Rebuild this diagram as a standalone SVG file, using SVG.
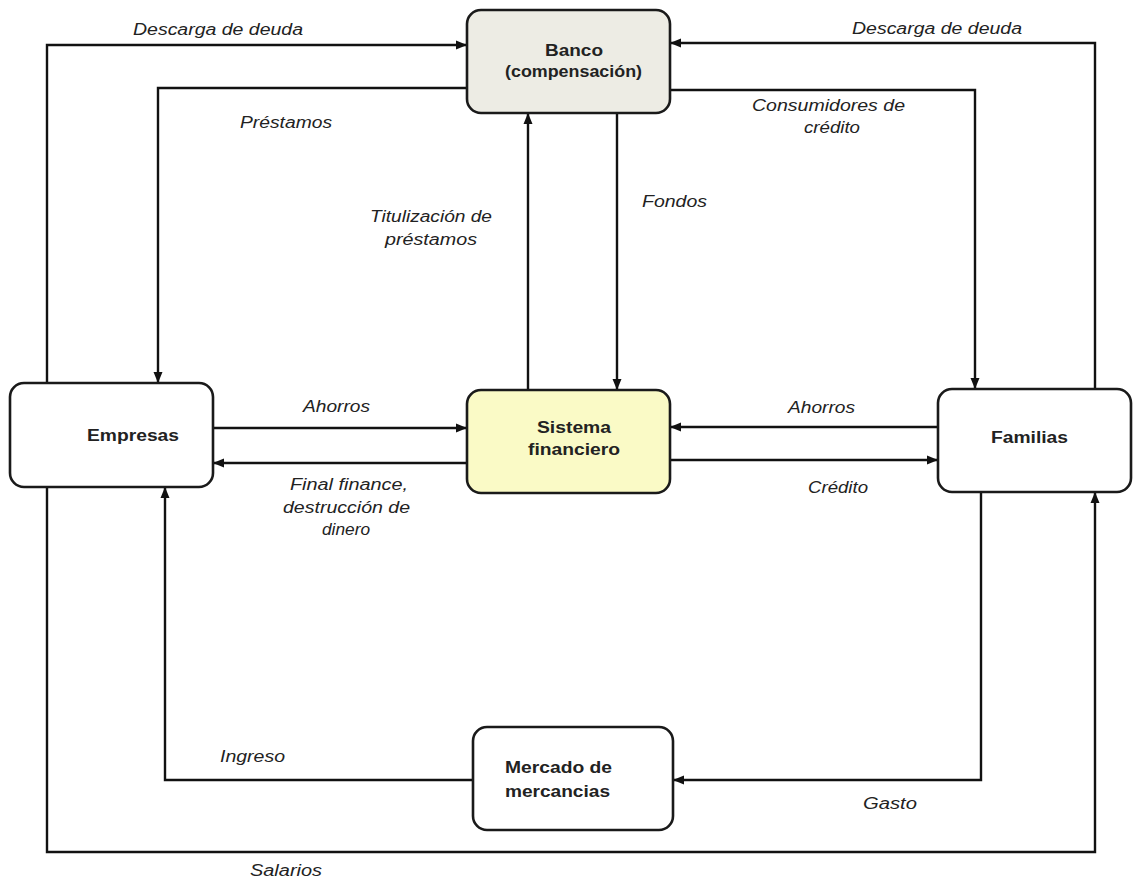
<svg xmlns="http://www.w3.org/2000/svg" width="1133" height="882" viewBox="0 0 1133 882">
<defs>
<marker id="arr" markerUnits="userSpaceOnUse" markerWidth="12" markerHeight="10" refX="11" refY="5" orient="auto">
<path d="M0,0.5 L11,5 L0,9.5 z" fill="#111"/>
</marker>
<style>
.box{stroke:#1a1a1a;stroke-width:2.6}
.c{fill:none;stroke:#111;stroke-width:2.4;marker-end:url(#arr)}
.lbl{font-family:"Liberation Sans",Arial,sans-serif;font-style:italic;font-size:16px;fill:#222}
.nt{font-family:"Liberation Sans",Arial,sans-serif;font-weight:bold;font-size:16px;fill:#222}
</style>
</defs>
<rect width="1133" height="882" fill="#fff"/>

<g id="connectors">
<path class="c" d="M47,383 V45 H467"/>
<path class="c" d="M467,88 H158 V383"/>
<path class="c" d="M1095,389 V43 H670"/>
<path class="c" d="M670,90 H975 V389"/>
<path class="c" d="M528,390 V113"/>
<path class="c" d="M617,113 V390"/>
<path class="c" d="M213,428 H467"/>
<path class="c" d="M467,463 H213"/>
<path class="c" d="M938,427 H670"/>
<path class="c" d="M670,460 H938"/>
<path class="c" d="M981,492 V780 H673"/>
<path class="c" d="M473,780 H165 V487"/>
<path class="c" d="M47,487 V852 H1095 V492"/>
</g>

<g id="labels">
<text class="lbl" x="133" y="35" textLength="170" lengthAdjust="spacingAndGlyphs">Descarga de deuda</text>
<text class="lbl" x="852" y="34" textLength="170" lengthAdjust="spacingAndGlyphs">Descarga de deuda</text>
<text class="lbl" x="240" y="128" textLength="92" lengthAdjust="spacingAndGlyphs">Préstamos</text>
<text class="lbl" x="752" y="111" textLength="153" lengthAdjust="spacingAndGlyphs">Consumidores de</text>
<text class="lbl" x="804" y="133" textLength="56" lengthAdjust="spacingAndGlyphs">crédito</text>
<text class="lbl" x="370" y="222" textLength="122" lengthAdjust="spacingAndGlyphs">Titulización de</text>
<text class="lbl" x="385" y="245" textLength="92" lengthAdjust="spacingAndGlyphs">préstamos</text>
<text class="lbl" x="642" y="207" textLength="65" lengthAdjust="spacingAndGlyphs">Fondos</text>
<text class="lbl" x="303" y="412" textLength="67" lengthAdjust="spacingAndGlyphs">Ahorros</text>
<text class="lbl" x="290" y="490" textLength="118" lengthAdjust="spacingAndGlyphs">Final finance,</text>
<text class="lbl" x="283" y="513" textLength="127" lengthAdjust="spacingAndGlyphs">destrucción de</text>
<text class="lbl" x="322" y="535" textLength="48" lengthAdjust="spacingAndGlyphs">dinero</text>
<text class="lbl" x="788" y="413" textLength="67" lengthAdjust="spacingAndGlyphs">Ahorros</text>
<text class="lbl" x="808" y="493" textLength="60" lengthAdjust="spacingAndGlyphs">Crédito</text>
<text class="lbl" x="220" y="762" textLength="65" lengthAdjust="spacingAndGlyphs">Ingreso</text>
<text class="lbl" x="863" y="809" textLength="54" lengthAdjust="spacingAndGlyphs">Gasto</text>
<text class="lbl" x="250" y="876" textLength="72" lengthAdjust="spacingAndGlyphs">Salarios</text>
</g>

<g id="banco">
<rect class="box" x="467" y="10" width="203" height="103" rx="14" fill="#edece4"/>
<text class="nt" x="545" y="56" textLength="58" lengthAdjust="spacingAndGlyphs">Banco</text>
<text class="nt" x="505" y="77" font-size="14" textLength="137" lengthAdjust="spacingAndGlyphs">(compensación)</text>
</g>

<g id="sistema">
<rect class="box" x="467" y="390" width="203" height="103" rx="14" fill="#fafac6"/>
<text class="nt" x="537" y="433" textLength="74" lengthAdjust="spacingAndGlyphs">Sistema</text>
<text class="nt" x="528" y="455" textLength="92" lengthAdjust="spacingAndGlyphs">financiero</text>
</g>

<g id="empresas">
<rect class="box" x="10" y="383" width="203" height="104" rx="14" fill="#fff"/>
<text class="nt" x="87" y="441" textLength="92" lengthAdjust="spacingAndGlyphs">Empresas</text>
</g>

<g id="familias">
<rect class="box" x="938" y="389" width="193" height="103" rx="14" fill="#fff"/>
<text class="nt" x="991" y="443" textLength="77" lengthAdjust="spacingAndGlyphs">Familias</text>
</g>

<g id="mercado">
<rect class="box" x="473" y="727" width="200" height="103" rx="14" fill="#fff"/>
<text class="nt" x="505" y="773" textLength="107" lengthAdjust="spacingAndGlyphs">Mercado de</text>
<text class="nt" x="505" y="797" textLength="105" lengthAdjust="spacingAndGlyphs">mercancias</text>
</g>
</svg>
